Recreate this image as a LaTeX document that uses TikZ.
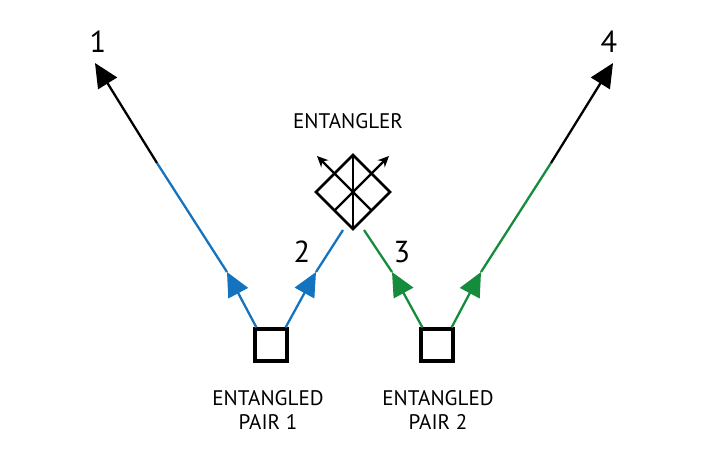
\documentclass[tikz,border=0pt]{standalone}
\usepackage{fontspec}
\setmainfont{PT Sans}
\usetikzlibrary{arrows.meta,positioning}
\definecolor{qblue}{RGB}{20,115,190}
\definecolor{qgreen}{RGB}{20,140,60}
\tikzset{
  src/.style={ draw, line width=1.8pt, minimum size=0.64cm, inner sep=0pt },
  beam/.style={ line width=1.3pt },
  tip/.style={ -{Triangle[length=0.48cm,width=0.44cm]} },
  lbl/.style={ font=\LARGE },
  pairlbl/.style={ align=center, font=\large }
}
\begin{document}
\begin{tikzpicture}[x=0.02cm,y=-0.02cm]
      \useasboundingbox (0,0) rectangle (703,457);

      \node[src] (P1) at (271, 345) {};
      \node[src] (P2) at (437, 345) {};

      \coordinate (E) at (353, 192);
      \coordinate (M1) at (227, 272);
      \coordinate (K1) at (157, 163);
      \coordinate (T1) at (95, 63);
      \coordinate (M2) at (316, 272);
      \coordinate (T2) at (343, 230);
      \coordinate (M3) at (392, 272);
      \coordinate (T3) at (364, 230);
      \coordinate (M4) at (481, 272);
      \coordinate (K4) at (551, 163);
      \coordinate (T4) at (613, 63);

      % beams
      \draw[beam, qblue, tip] (P1.north west) ++(3,0) -- (M1);
      \draw[beam, qblue] (M1) -- (K1);
      \draw[beam, tip] (K1) -- (T1);
      \draw[beam, qblue, tip] (P1.north east) ++(-3,0) -- (M2);
      \draw[beam, qblue] (M2) -- (T2);
      \draw[beam, qgreen, tip] (P2.north west) ++(3,0) -- (M3);
      \draw[beam, qgreen] (M3) -- (T3);
      \draw[beam, qgreen, tip] (P2.north east) ++(-3,0) -- (M4);
      \draw[beam, qgreen] (M4) -- (K4);
      \draw[beam, tip] (K4) -- (T4);

      % entangler
      \draw[line width=1.5pt] (E) ++(0,-37) -- ++(37,37) -- ++(-37,37) -- ++(-37,-37) -- cycle;
      \draw[line width=0.6pt] (E) ++(0,-37) -- ++(0,74);
      \draw[line width=1.3pt, -{Stealth[length=0.22cm,width=0.2cm]}] (371.5,210.5) -- (317,156);
      \draw[line width=1.3pt, -{Stealth[length=0.22cm,width=0.2cm]}] (334.5,210.5) -- (389,156);

      \node[lbl] (n1) at (98, 42) {1};
      \node[lbl] (n2) at (302, 252) {2};
      \node[lbl] (n3) at (402, 252) {3};
      \node[lbl] (n4) at (609, 42) {4};
      \node[font=\large] (ent) at (348, 121) {ENTANGLER};
      \node[pairlbl] (c1) at (268, 410) {ENTANGLED\\PAIR 1};
      \node[pairlbl] (c2) at (438, 410) {ENTANGLED\\PAIR 2};
\end{tikzpicture}
\end{document}
